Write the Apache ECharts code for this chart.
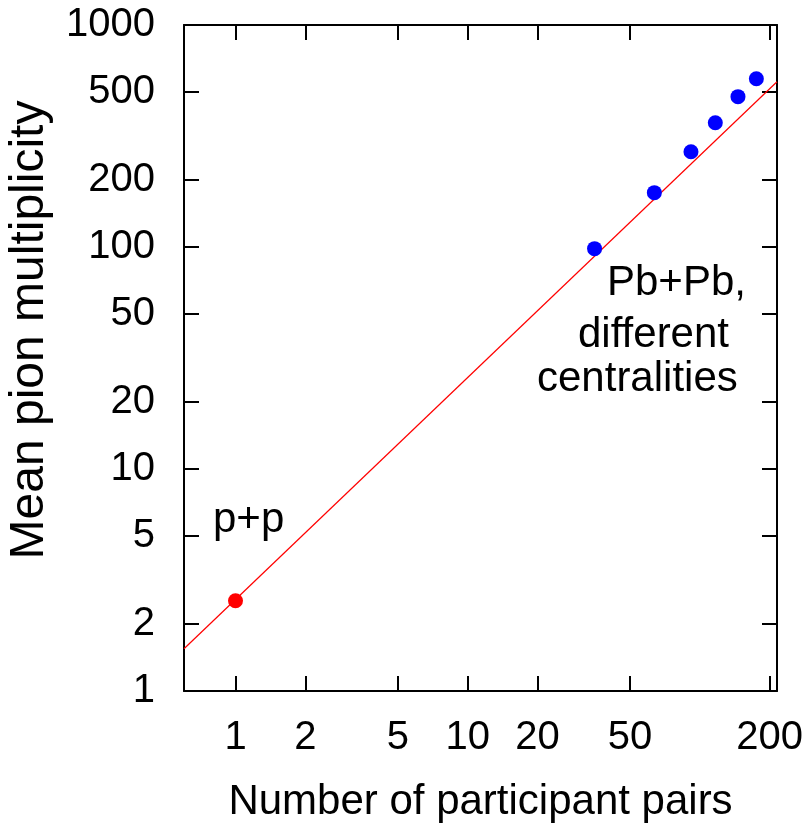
<!DOCTYPE html>
<html><head><meta charset="utf-8">
<script src="https://cdn.jsdelivr.net/npm/echarts@6/dist/echarts.min.js"></script>
<style>html,body{margin:0;padding:0;background:#fff}#c{width:807px;height:823px}</style>
</head><body><div id="c"></div>
<script>
// ---- data ----
const xTicks = [1, 2, 5, 10, 20, 50, 200];
const yTicks = [1, 2, 5, 10, 20, 50, 100, 200, 500, 1000];
const xRange = [0.6, 215];
const yRange = [1, 1000];
const ppX = [1];
const ppY = [2.55];
const pbX = [35.2, 63.7, 91.6, 116.6, 146, 175.2];
const pbY = [98.3, 175.7, 268.7, 363, 475.5, 573];
const fitX = [0.6, 215];
const fitY = [1.55, 555];
const xTitle = 'Number of participant pairs';
const yTitle = 'Mean pion multiplicity';
const noteLines = ['Pb+Pb,', 'different', 'centralities'];
const ppNote = 'p+p';

const FONT = '"Liberation Sans", Arial, Helvetica, sans-serif';
const zip = (a, b) => a.map((v, i) => [v, b[i]]);
const plain = v => String(Math.round(v * 1000) / 1000);

const axisCommon = {
  type: 'log', logBase: 10,
  axisLine: { show: true, onZero: false, lineStyle: { color: '#000', width: 2 } },
  splitLine: { show: false },
  minorTick: { show: false },
  minorSplitLine: { show: false }
};
function mkX(pos, labels) {
  return Object.assign({}, axisCommon, {
    position: pos, min: xRange[0], max: xRange[1],
    axisTick: { show: true, inside: true, length: 15, customValues: xTicks, lineStyle: { color: '#000', width: 2 } },
    axisLabel: { show: labels, customValues: xTicks, formatter: plain, fontSize: 40, color: '#000', fontFamily: FONT, margin: 27 },
    name: labels ? xTitle : '', nameLocation: 'middle', nameGap: 90,
    nameTextStyle: { fontSize: 42, color: '#000', fontFamily: FONT }
  });
}
function mkY(pos, labels) {
  return Object.assign({}, axisCommon, {
    position: pos, min: yRange[0], max: yRange[1],
    axisTick: { show: true, inside: true, length: 15, customValues: yTicks, lineStyle: { color: '#000', width: 2 } },
    axisLabel: { show: labels, customValues: yTicks, formatter: plain, fontSize: 40, color: '#000', fontFamily: FONT, margin: 29 }
  });
}

const chart = echarts.init(document.getElementById('c'), null, { renderer: 'canvas' });
chart.setOption({
  animation: false,
  backgroundColor: '#fff',
  grid: { left: 184, right: 30, top: 25, bottom: 132, containLabel: false, outerBoundsMode: 'none' },
  xAxis: [mkX('bottom', true), mkX('top', false)],
  yAxis: [mkY('left', true), mkY('right', false)],
  series: [
    { type: 'line', data: zip(fitX, fitY), symbol: 'none', lineStyle: { color: '#ff0000', width: 1.2 }, clip: true, z: 2 },
    { type: 'scatter', data: zip(pbX, pbY), symbol: 'circle', symbolSize: 15, itemStyle: { color: '#0000ff', opacity: 1 }, z: 3 },
    { type: 'scatter', data: zip(ppX, ppY), symbol: 'circle', symbolSize: 15, itemStyle: { color: '#ff0000', opacity: 1 }, z: 3 }
  ],
  graphic: [
    { type: 'text', x: 30, y: 330, rotation: Math.PI / 2,
      style: { text: yTitle, fontSize: 48, fontFamily: FONT, fill: '#000', align: 'center', verticalAlign: 'middle' } },
    { type: 'text', x: 213, y: 520, style: { text: ppNote, fontSize: 42, fontFamily: FONT, fill: '#000', align: 'left', verticalAlign: 'middle' } },
    { type: 'text', x: 607, y: 283, style: { text: noteLines[0], fontSize: 42, fontFamily: FONT, fill: '#000', align: 'left', verticalAlign: 'middle' } },
    { type: 'text', x: 578, y: 335, style: { text: noteLines[1], fontSize: 42, fontFamily: FONT, fill: '#000', align: 'left', verticalAlign: 'middle' } },
    { type: 'text', x: 537, y: 379, style: { text: noteLines[2], fontSize: 42, fontFamily: FONT, fill: '#000', align: 'left', verticalAlign: 'middle' } }
  ]
});
</script></body></html>
